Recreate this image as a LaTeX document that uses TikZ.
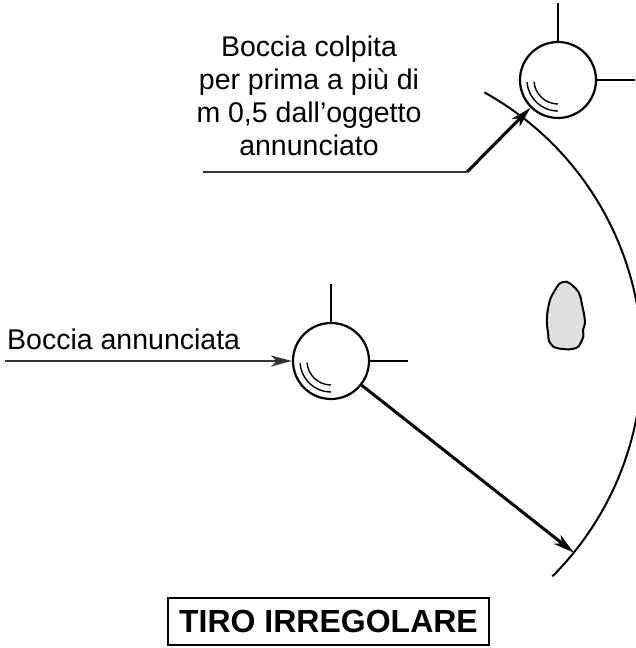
\documentclass[tikz,border=0pt]{standalone}
\usepackage{fontspec}
\setmainfont{Liberation Sans}
\usetikzlibrary{arrows.meta,calc}

\begin{document}
\begin{tikzpicture}[x=1pt,y=1pt,every node/.style={font=\fontsize{28.5}{33}\selectfont},
  ball/.style={circle,draw,line width=2.2pt,minimum size=76pt,inner sep=0pt},
  tick/.style={line width=1.6pt},
  shine/.style={line width=1.4pt},
  punta/.style={-{Stealth[length=21pt,width=11pt,inset=6pt]}},
  hit/.style={line width=3pt,punta},
  lead/.style={line width=2pt,black!80}]
\useasboundingbox (0,0) rectangle (636,648);
% the two balls
\node[ball] (colpita) at (558,568) {};
\node[ball] (annunciata) at (331,287) {};
\draw[tick] (colpita.north) -- ++(0,38);
\draw[tick] (colpita.east) -- ++(38,0);
\draw[tick] (annunciata.north) -- ++(0,38);
\draw[tick] (annunciata.east) -- ++(38,0);
\foreach \b in {colpita,annunciata}{
  \draw[shine] ($(\b)+(184:31)$) arc[start angle=184,end angle=270,radius=31];
  \draw[shine] ($(\b)+(184:24)$) arc[start angle=184,end angle=270,radius=24];
}
% announced object
\draw[line width=2pt,fill=gray!25] plot[smooth cycle] coordinates {
  (566.7,366.3) (573,362) (578.3,356.3) (581,349) (581.7,344.7) (584,334) (585,324.7)
  (583,318) (583.3,311.3) (578.3,301.3) (572,299) (566.7,298.7) (559,299.5) (553.3,301.3)
  (549,307) (548.3,313) (547,324) (547.3,334.7) (550,348) (555,358) (560,364.7)};
% limit at m 0,5
\coordinate (centro) at (336,288);
\begin{scope}
\clip (0,0) rectangle (636,648);
\draw[line width=2pt] (centro) ++(61:306) arc[start angle=61,end angle=-45,radius=306];
\end{scope}
\coordinate (bordo) at ($(centro)+(-39:306)$);
% labels
\node[anchor=base west,inner sep=0pt] (txtann) at (7,298) {Boccia annunciata};
\coordinate (inizio) at (5,287);
\draw[lead,punta] (inizio) -- (annunciata);
\node[align=center,anchor=north,inner sep=0pt] (txtcol) at (309,612)
  {Boccia colpita\\per prima a più di\\m 0,5 dall’oggetto\\annunciato};
\coordinate (sotto1) at (203,476);
\coordinate (sotto2) at (467,476);
\draw[lead] (sotto1) -- (sotto2);
\draw[hit] (sotto2) -- (colpita);
\draw[hit] (annunciata) -- (bordo);
\node[draw,line width=2.5pt,minimum width=321pt,minimum height=47pt,
  font=\fontsize{32}{36}\selectfont\bfseries] (titolo) at (328.5,26.5) {TIRO IRREGOLARE};
\end{tikzpicture}
\end{document}
